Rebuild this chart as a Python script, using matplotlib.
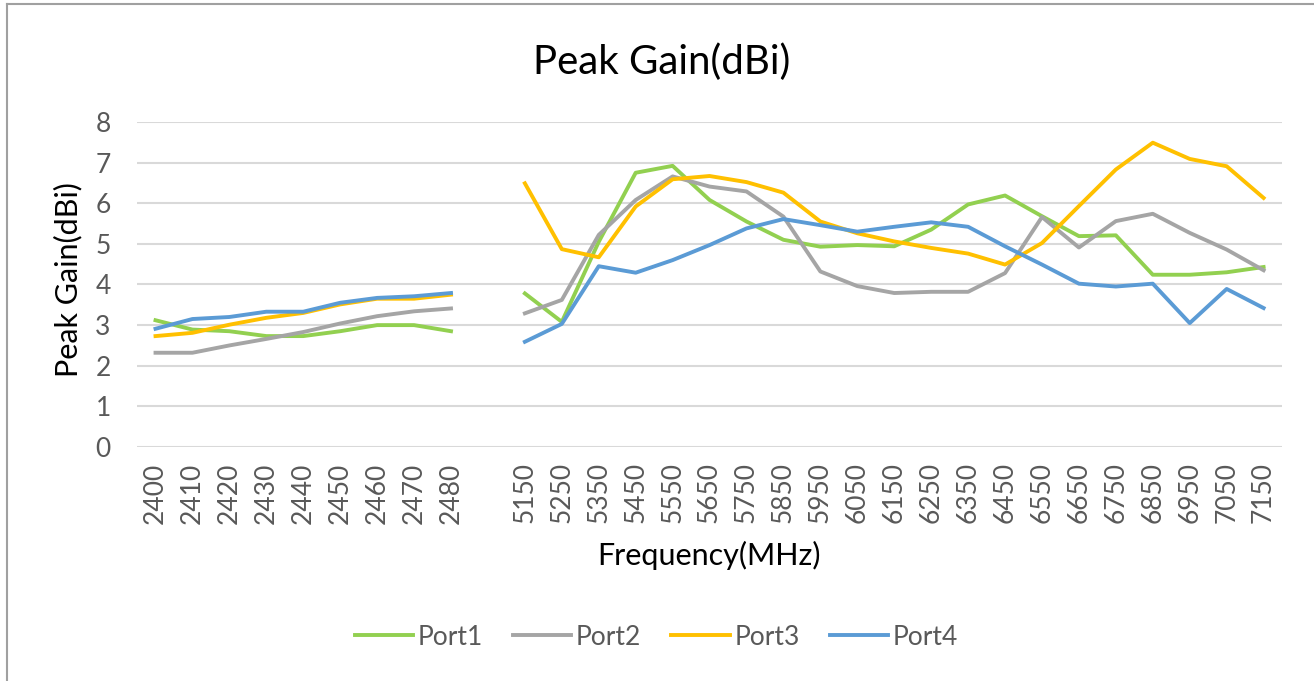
import matplotlib
matplotlib.use("Agg")
import matplotlib.pyplot as plt
from matplotlib.lines import Line2D
import numpy as np

plt.rcParams["font.family"] = ["Lato", "DejaVu Sans"]

# categories: 2.4 GHz band, one empty slot, then 5-7 GHz band
BAND_24 = ["2400", "2410", "2420", "2430", "2440", "2450", "2460", "2470", "2480"]
BAND_5_7 = [str(f) for f in range(5150, 7151, 100)]
CATEGORIES = BAND_24 + [""] + BAND_5_7

PORT1_24 = [3.12, 2.89, 2.85, 2.73, 2.73, 2.85, 3.0, 3.0, 2.85]
PORT2_24 = [2.32, 2.32, 2.5, 2.66, 2.83, 3.04, 3.22, 3.34, 3.41]
PORT3_24 = [2.73, 2.81, 3.01, 3.18, 3.3, 3.51, 3.65, 3.65, 3.75]
PORT4_24 = [2.91, 3.15, 3.2, 3.33, 3.33, 3.55, 3.67, 3.71, 3.79]

PORT1_57 = [3.78, 3.08, 5.05, 6.75, 6.92, 6.08, 5.55, 5.1, 4.93, 4.97, 4.94,
            5.35, 5.97, 6.19, 5.68, 5.19, 5.21, 4.24, 4.24, 4.3, 4.43]
PORT2_57 = [3.29, 3.62, 5.22, 6.08, 6.66, 6.41, 6.29, 5.67, 4.32, 3.96, 3.79,
            3.82, 3.82, 4.28, 5.66, 4.91, 5.56, 5.74, 5.27, 4.86, 4.35]
PORT3_57 = [6.49, 4.87, 4.67, 5.92, 6.59, 6.67, 6.52, 6.26, 5.55, 5.26, 5.06,
            4.9, 4.76, 4.49, 5.02, 5.93, 6.83, 7.49, 7.09, 6.91, 6.13]
PORT4_57 = [2.59, 3.03, 4.45, 4.29, 4.6, 4.97, 5.38, 5.61, 5.46, 5.3, 5.42,
            5.53, 5.42, 4.94, 4.49, 4.02, 3.95, 4.02, 3.05, 3.89, 3.42]

SERIES = [
    ("Port1", PORT1_24, PORT1_57, "#92D050"),
    ("Port2", PORT2_24, PORT2_57, "#A5A5A5"),
    ("Port3", PORT3_24, PORT3_57, "#FFC000"),
    ("Port4", PORT4_24, PORT4_57, "#5B9BD5"),
]

fig = plt.figure(figsize=(13.14, 6.81), dpi=100)
ax = fig.add_axes([0.1043, 0.3436, 0.8714, 0.4773])

x24 = np.arange(len(BAND_24))
x57 = np.arange(len(BAND_5_7)) + len(BAND_24) + 1
for name, v24, v57, color in SERIES:
    ax.plot(x24, v24, color=color, lw=2.8, solid_joinstyle="round", zorder=3)
    ax.plot(x57, v57, color=color, lw=2.8, solid_joinstyle="round", zorder=3)

ax.set_xlim(-0.5, len(CATEGORIES) - 0.5)
ax.set_ylim(0, 8)
ax.set_yticks(range(0, 9))
ax.set_xticks(range(len(CATEGORIES)))
ax.set_xticklabels(CATEGORIES, rotation=90, fontsize=19, color="#595959")
ax.tick_params(axis="y", labelsize=19, colors="#595959", length=0, pad=19)
ax.tick_params(axis="x", length=0, pad=11)
ax.grid(axis="y", color="#D9D9D9", lw=1.5, zorder=0)
for side in ("top", "right", "left", "bottom"):
    ax.spines[side].set_visible(False)

fig.text(68 / 1314, 1 - 280 / 681, "Peak Gain(dBi)", rotation=90, ha="center", va="center",
         fontsize=22)
fig.text(709 / 1314, 1 - 555 / 681, "Frequency(MHz)", ha="center", va="center", fontsize=22)
fig.text(662 / 1314, 1 - 62 / 681, "Peak Gain(dBi)", ha="center", va="center", fontsize=29)

handles = [Line2D([], [], color=c, lw=2.8) for _, _, _, c in SERIES]
fig.legend(handles, [s[0] for s in SERIES], loc="center", bbox_to_anchor=(0.4995, 0.0646),
           ncol=4, frameon=False, fontsize=19, handlelength=2.2, columnspacing=1.15,
           handletextpad=0.18, labelcolor="#595959")

# chart frame (top and left edges visible)
fig.add_artist(Line2D([7 / 1314, 7 / 1314], [0, 1 - 4 / 681], transform=fig.transFigure,
                      color="#A0A0A0", lw=1.5))
fig.add_artist(Line2D([7 / 1314, 1], [1 - 4 / 681, 1 - 4 / 681], transform=fig.transFigure,
                      color="#A0A0A0", lw=1.5))

fig.savefig("out.png", dpi=100)
